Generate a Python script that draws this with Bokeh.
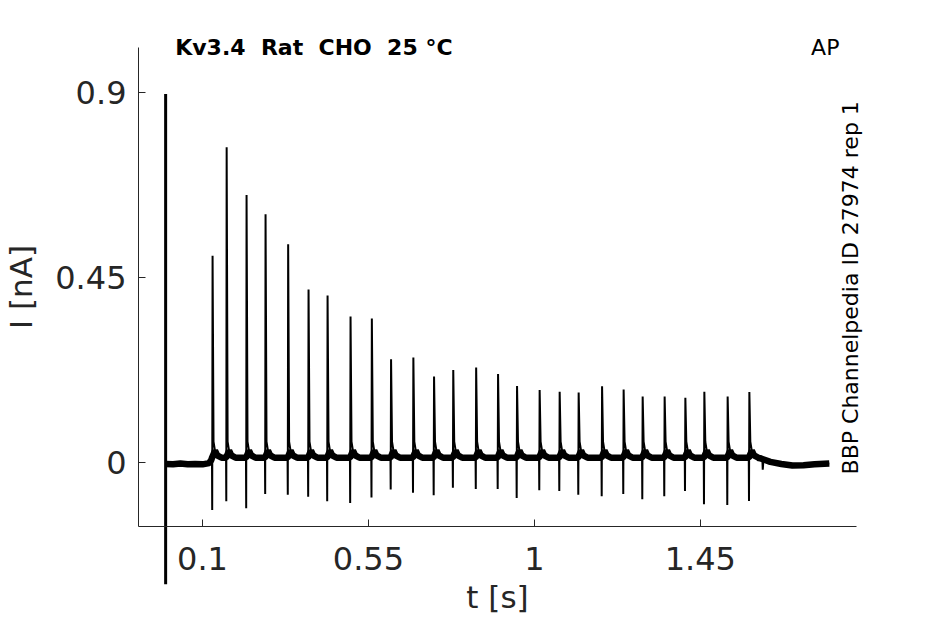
from bokeh.plotting import figure
from bokeh.models import FixedTicker, Label, Range1d
from bokeh.embed import file_html
from bokeh.resources import INLINE

# ---- data ----
spike_t = [0.1269, 0.1651, 0.2191, 0.2706, 0.3319, 0.3872, 0.4388, 0.5011, 0.5589,
           0.6110, 0.6715, 0.7276, 0.7797, 0.8418, 0.9012, 0.9527, 1.0140, 1.0683,
           1.1198, 1.1833, 1.2418, 1.2934, 1.3530, 1.4092, 1.4607, 1.5239, 1.5828]
spike_peak = [0.503, 0.767, 0.651, 0.604, 0.531, 0.421, 0.406, 0.355, 0.350,
              0.251, 0.255, 0.209, 0.225, 0.231, 0.215, 0.186, 0.176, 0.172,
              0.170, 0.185, 0.177, 0.160, 0.160, 0.157, 0.172, 0.160, 0.171]
spike_trough = [-0.116, -0.095, -0.112, -0.077, -0.079, -0.084, -0.095, -0.099, -0.086,
                -0.066, -0.074, -0.080, -0.062, -0.065, -0.065, -0.087, -0.068, -0.070,
                -0.079, -0.083, -0.077, -0.090, -0.083, -0.070, -0.102, -0.104, -0.094]
stim_base = 0.011
tail_dt = [0.003, 0.007, 0.013, 0.025]
tail_i = [0.050, 0.028, 0.017, 0.011]
pre_t = [0.001, 0.02, 0.04, 0.06, 0.08, 0.10, 0.118, 0.124]
pre_i = [-0.004, -0.005, -0.003, -0.005, -0.004, -0.005, -0.002, 0.006]
post_t = [1.605, 1.612, 1.64, 1.67, 1.70, 1.73, 1.76, 1.80]
post_i = [0.011, 0.010, 0.001, -0.004, -0.008, -0.007, -0.005, -0.003]
blip_t = [1.6185, 1.6195, 1.6215]
blip_i = [0.008, -0.018, 0.007]
artifact_t = [0.0, 0.0]
artifact_i = [0.897, -0.297]

x_lim = (-0.0736, 1.875)
y_lim = (-0.1564, 1.0102)
x_ticks = [0.1, 0.55, 1.0, 1.45]
x_tick_labels = ["0.1", "0.55", "1", "1.45"]
y_ticks = [0.0, 0.45, 0.9]
y_tick_labels = ["0", "0.45", "0.9"]

title_text = "Kv3.4\u00a0 Rat\u00a0 CHO\u00a0 25 °C"
corner_text = "AP"
side_text = "BBP Channelpedia ID 27974 rep 1"

# ---- build trace from the read values ----
trace_t, trace_i = list(pre_t), list(pre_i)
band_t, band_i = list(pre_t), list(pre_i)
for t, pk, tr in zip(spike_t, spike_peak, spike_trough):
    trace_t += [t - 0.0012, t - 0.0006, t + 0.0004] + [t + d for d in tail_dt]
    trace_i += [stim_base, tr, pk] + tail_i
    band_t += [t - 0.0012] + [t + d for d in tail_dt[1:]]
    band_i += [stim_base] + tail_i[1:]
trace_t += post_t[:2] + blip_t + post_t[2:]
trace_i += post_i[:2] + blip_i + post_i[2:]
band_t += post_t
band_i += post_i

FONT = "DejaVu Sans"
GREY = "#262626"

# The frame spans the whole canvas; axes sit at fixed data positions so that
# texts and the t=0 transient can extend beyond the axes box, as in the original.
W, H = 929, 622
px_per_s, px_per_nA = 368.7, 410.6
ax_left_px, ax_top_px = 138.0, 47.0
x0 = x_lim[0] - ax_left_px / px_per_s
x1 = x0 + W / px_per_s
y1 = y_lim[1] + ax_top_px / px_per_nA
y0 = y1 - H / px_per_nA

p = figure(width=W, height=H, output_backend="svg", toolbar_location=None, title=None,
           x_range=Range1d(x0, x1), y_range=Range1d(y0, y1),
           min_border_left=0, min_border_right=0, min_border_top=0, min_border_bottom=0)
p.outline_line_color = None
p.grid.visible = False
p.background_fill_color = "white"
p.border_fill_color = "white"

p.line(band_t, band_i, line_width=6.5, line_color="black")
p.line(trace_t, trace_i, line_width=2, line_color="black")
p.line(artifact_t, artifact_i, line_width=3, line_color="black")

xa, ya = p.xaxis[0], p.yaxis[0]
xa.fixed_location = y_lim[0]
xa.bounds = x_lim
ya.fixed_location = x_lim[0]
ya.bounds = y_lim
for ax in (xa, ya):
    ax.axis_line_color = GREY
    ax.axis_line_width = 1
    ax.major_tick_line_color = GREY
    ax.major_tick_in = 7
    ax.major_tick_out = 0
    ax.minor_tick_line_color = None
    ax.major_label_text_font = FONT
    ax.major_label_text_font_size = "32px"
    ax.major_label_text_color = GREY
    ax.axis_label_text_font = FONT
    ax.axis_label_text_font_size = "31px"
    ax.axis_label_text_font_style = "normal"
    ax.axis_label_text_color = GREY

xa.ticker = FixedTicker(ticks=x_ticks)
xa.major_label_overrides = dict(zip(x_ticks, x_tick_labels))
ya.ticker = FixedTicker(ticks=y_ticks)
ya.major_label_overrides = dict(zip(y_ticks, y_tick_labels))
xa.axis_label = "t [s]"
ya.axis_label = "I [nA]"
xa.major_label_standoff = 20
ya.major_label_standoff = 12
xa.axis_label_standoff = 6
ya.axis_label_standoff = 13

p.add_layout(Label(x=0.026, y=1.0095, text=title_text, text_font=FONT,
                   text_font_style="bold", text_font_size="22px",
                   text_align="left", text_baseline="alphabetic", text_color="black"))
p.add_layout(Label(x=1.789, y=1.0095, text=corner_text, text_font=FONT,
                   text_font_size="22px", text_align="center",
                   text_baseline="alphabetic", text_color="black"))
p.add_layout(Label(x=1.857, y=0.425, text=side_text, text_font=FONT,
                   text_font_size="22px", text_align="center", angle=1.5707963,
                   text_baseline="middle", text_color="black"))

open("out.html", "w").write(file_html(p, INLINE))
